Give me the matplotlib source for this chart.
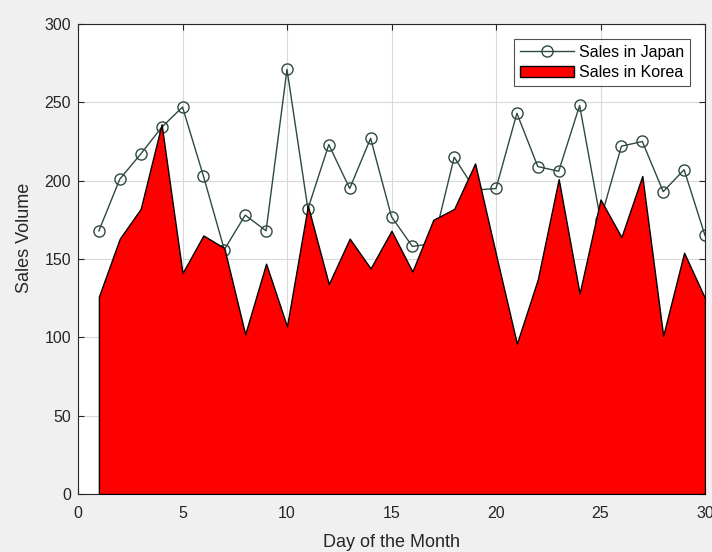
import matplotlib
matplotlib.use("Agg")
import matplotlib.pyplot as plt

plt.rcParams['font.family'] = ['Liberation Sans', 'DejaVu Sans']

days = list(range(1, 31))

japan = [168, 201, 217, 234, 247, 203, 156, 178, 168, 271,
         182, 223, 195, 227, 177, 158, 160, 215, 194, 195,
         243, 209, 206, 248, 175, 222, 225, 193, 207, 165]

korea = [126, 163, 182, 236, 141, 165, 157, 102, 147, 107,
         184, 134, 163, 144, 168, 142, 175, 182, 211, 153,
         96, 137, 201, 128, 188, 164, 203, 101, 154, 125]

xticks = [0, 5, 10, 15, 20, 25, 30]
yticks = [0, 50, 100, 150, 200, 250, 300]

fig = plt.figure(figsize=(7.12, 5.52), dpi=100, facecolor="#f0f0f0")
ax = fig.add_axes([78/712, 1 - 494/552, 627/712, 470/552])

line_col = "#2e4a3c"
ax.plot(days, japan, color=line_col, lw=1, marker="o", ms=8,
        mfc="none", mec=line_col, mew=1, label="Sales in Japan", zorder=2)
ax.fill_between(days, korea, 0, facecolor="#ff0000", edgecolor="black",
                lw=1, label="Sales in Korea", zorder=3)

ax.set_xlim(0, 30)
ax.set_ylim(0, 300)
ax.set_xticks(xticks)
ax.set_yticks(yticks)
ax.grid(True, color="#d9d9d9", lw=0.8)
ax.set_axisbelow(True)
ax.tick_params(direction="in", top=True, right=True, length=4,
               labelsize=11.5, colors="#262626", width=0.8)
ax.tick_params(axis="x", pad=9)
ax.tick_params(axis="y", pad=5)
for s in ax.spines.values():
    s.set_color("#262626")
    s.set_linewidth(0.8)

ax.set_xlabel("Day of the Month", fontsize=13, color="#262626", labelpad=9)
ax.set_ylabel("Sales Volume", fontsize=13, color="#262626")
ax.yaxis.set_label_coords(-0.072, 0.545)

leg = ax.legend(loc="upper right", fontsize=11.5, frameon=True, fancybox=False,
                edgecolor="#262626", borderaxespad=0.95, handlelength=3.4,
                handletextpad=0.3, borderpad=0.35, labelspacing=0.35)
leg.get_frame().set_linewidth(0.8)

fig.savefig("out.png", dpi=100, facecolor=fig.get_facecolor())
